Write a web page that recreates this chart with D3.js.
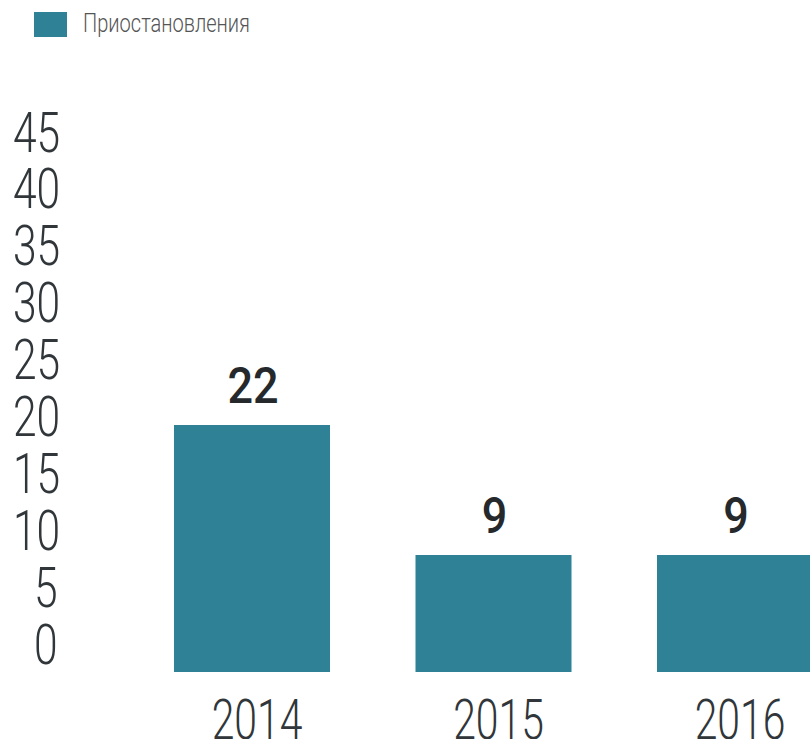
<!DOCTYPE html>
<html>
<head>
<meta charset="utf-8">
<script src="https://cdn.jsdelivr.net/npm/d3@7"></script>
<style>
  html, body { margin: 0; padding: 0; background: #fff; }
  svg { display: block; font-family: Roboto, "Open Sans", sans-serif; }
</style>
</head>
<body>
<svg id="chart" width="810" height="739"></svg>
<script>
// data
var years = ['2014', '2015', '2016'];
var suspensions = [22, 9, 9];
var yTicks = [0, 5, 10, 15, 20, 25, 30, 35, 40, 45];
var seriesName = 'Приостановления';

var barColor = '#2f8296',
    textColor = '#30363a';

var svg = d3.select('#chart');

// scales
var x = d3.scaleBand()
  .domain(years)
  .range([88.5, 898.5])
  .padding(0.354);

// axis labels sit on their own scale, the bars use a tighter one
var yAxis = d3.scaleLinear().domain([0, 45]).range([644, 132]);
var yBar = d3.scaleLinear().domain([0, 45]).range([645, 195]);
var barBottom = 672;

/* legend */
var legend = svg.append('g').attr('class', 'legend');
legend.append('rect')
  .attr('x', 34).attr('y', 12)
  .attr('width', 33).attr('height', 25)
  .attr('fill', barColor);
legend.append('text')
  .attr('x', 83).attr('y', 32)
  .attr('font-size', 26)
  .attr('font-weight', 300)
  .attr('fill', '#555')
  .attr('textLength', 167)
  .attr('lengthAdjust', 'spacingAndGlyphs')
  .text(seriesName);

/* y tick labels: thin, narrow digits */
svg.append('g').attr('class', 'y-labels')
  .selectAll('g')
  .data(yTicks)
  .enter().append('g')
    .attr('transform', function(d) {
      var pad = String(d).length < 2 ? 21 : 0;
      return 'translate(' + (13 + pad) + ',' + (yAxis(d) + 19.5) + ') scale(0.76,1)';
    })
  .append('text')
    .attr('font-size', 56)
    .attr('font-weight', 300)
    .attr('fill', textColor)
    .text(function(d) { return d; });

/* bars */
svg.append('g').attr('class', 'bars')
  .selectAll('rect')
  .data(suspensions)
  .enter().append('rect')
    .attr('x', function(d, i) { return x(years[i]); })
    .attr('y', function(d) { return yBar(d); })
    .attr('width', x.bandwidth())
    .attr('height', function(d) { return barBottom - yBar(d); })
    .attr('fill', barColor);

/* value labels */
svg.append('g').attr('class', 'values')
  .selectAll('g')
  .data(suspensions)
  .enter().append('g')
    .attr('transform', function(d, i) {
      return 'translate(' + (x(years[i]) + x.bandwidth() / 2 + 1) + ',' + (yBar(d) - 22) + ') scale(0.9,1)';
    })
  .append('text')
    .attr('text-anchor', 'middle')
    .attr('font-size', 50)
    .attr('font-weight', 500)
    .attr('fill', '#25292c')
    .text(function(d) { return d; });

/* year labels */
svg.append('g').attr('class', 'x-labels')
  .selectAll('g')
  .data(years)
  .enter().append('g')
    .attr('transform', function(d) {
      return 'translate(' + (x(d) + x.bandwidth() / 2 + 5) + ',739) scale(0.73,1)';
    })
  .append('text')
    .attr('text-anchor', 'middle')
    .attr('font-size', 56)
    .attr('font-weight', 300)
    .attr('fill', textColor)
    .text(function(d) { return d; });
</script>
</body>
</html>
